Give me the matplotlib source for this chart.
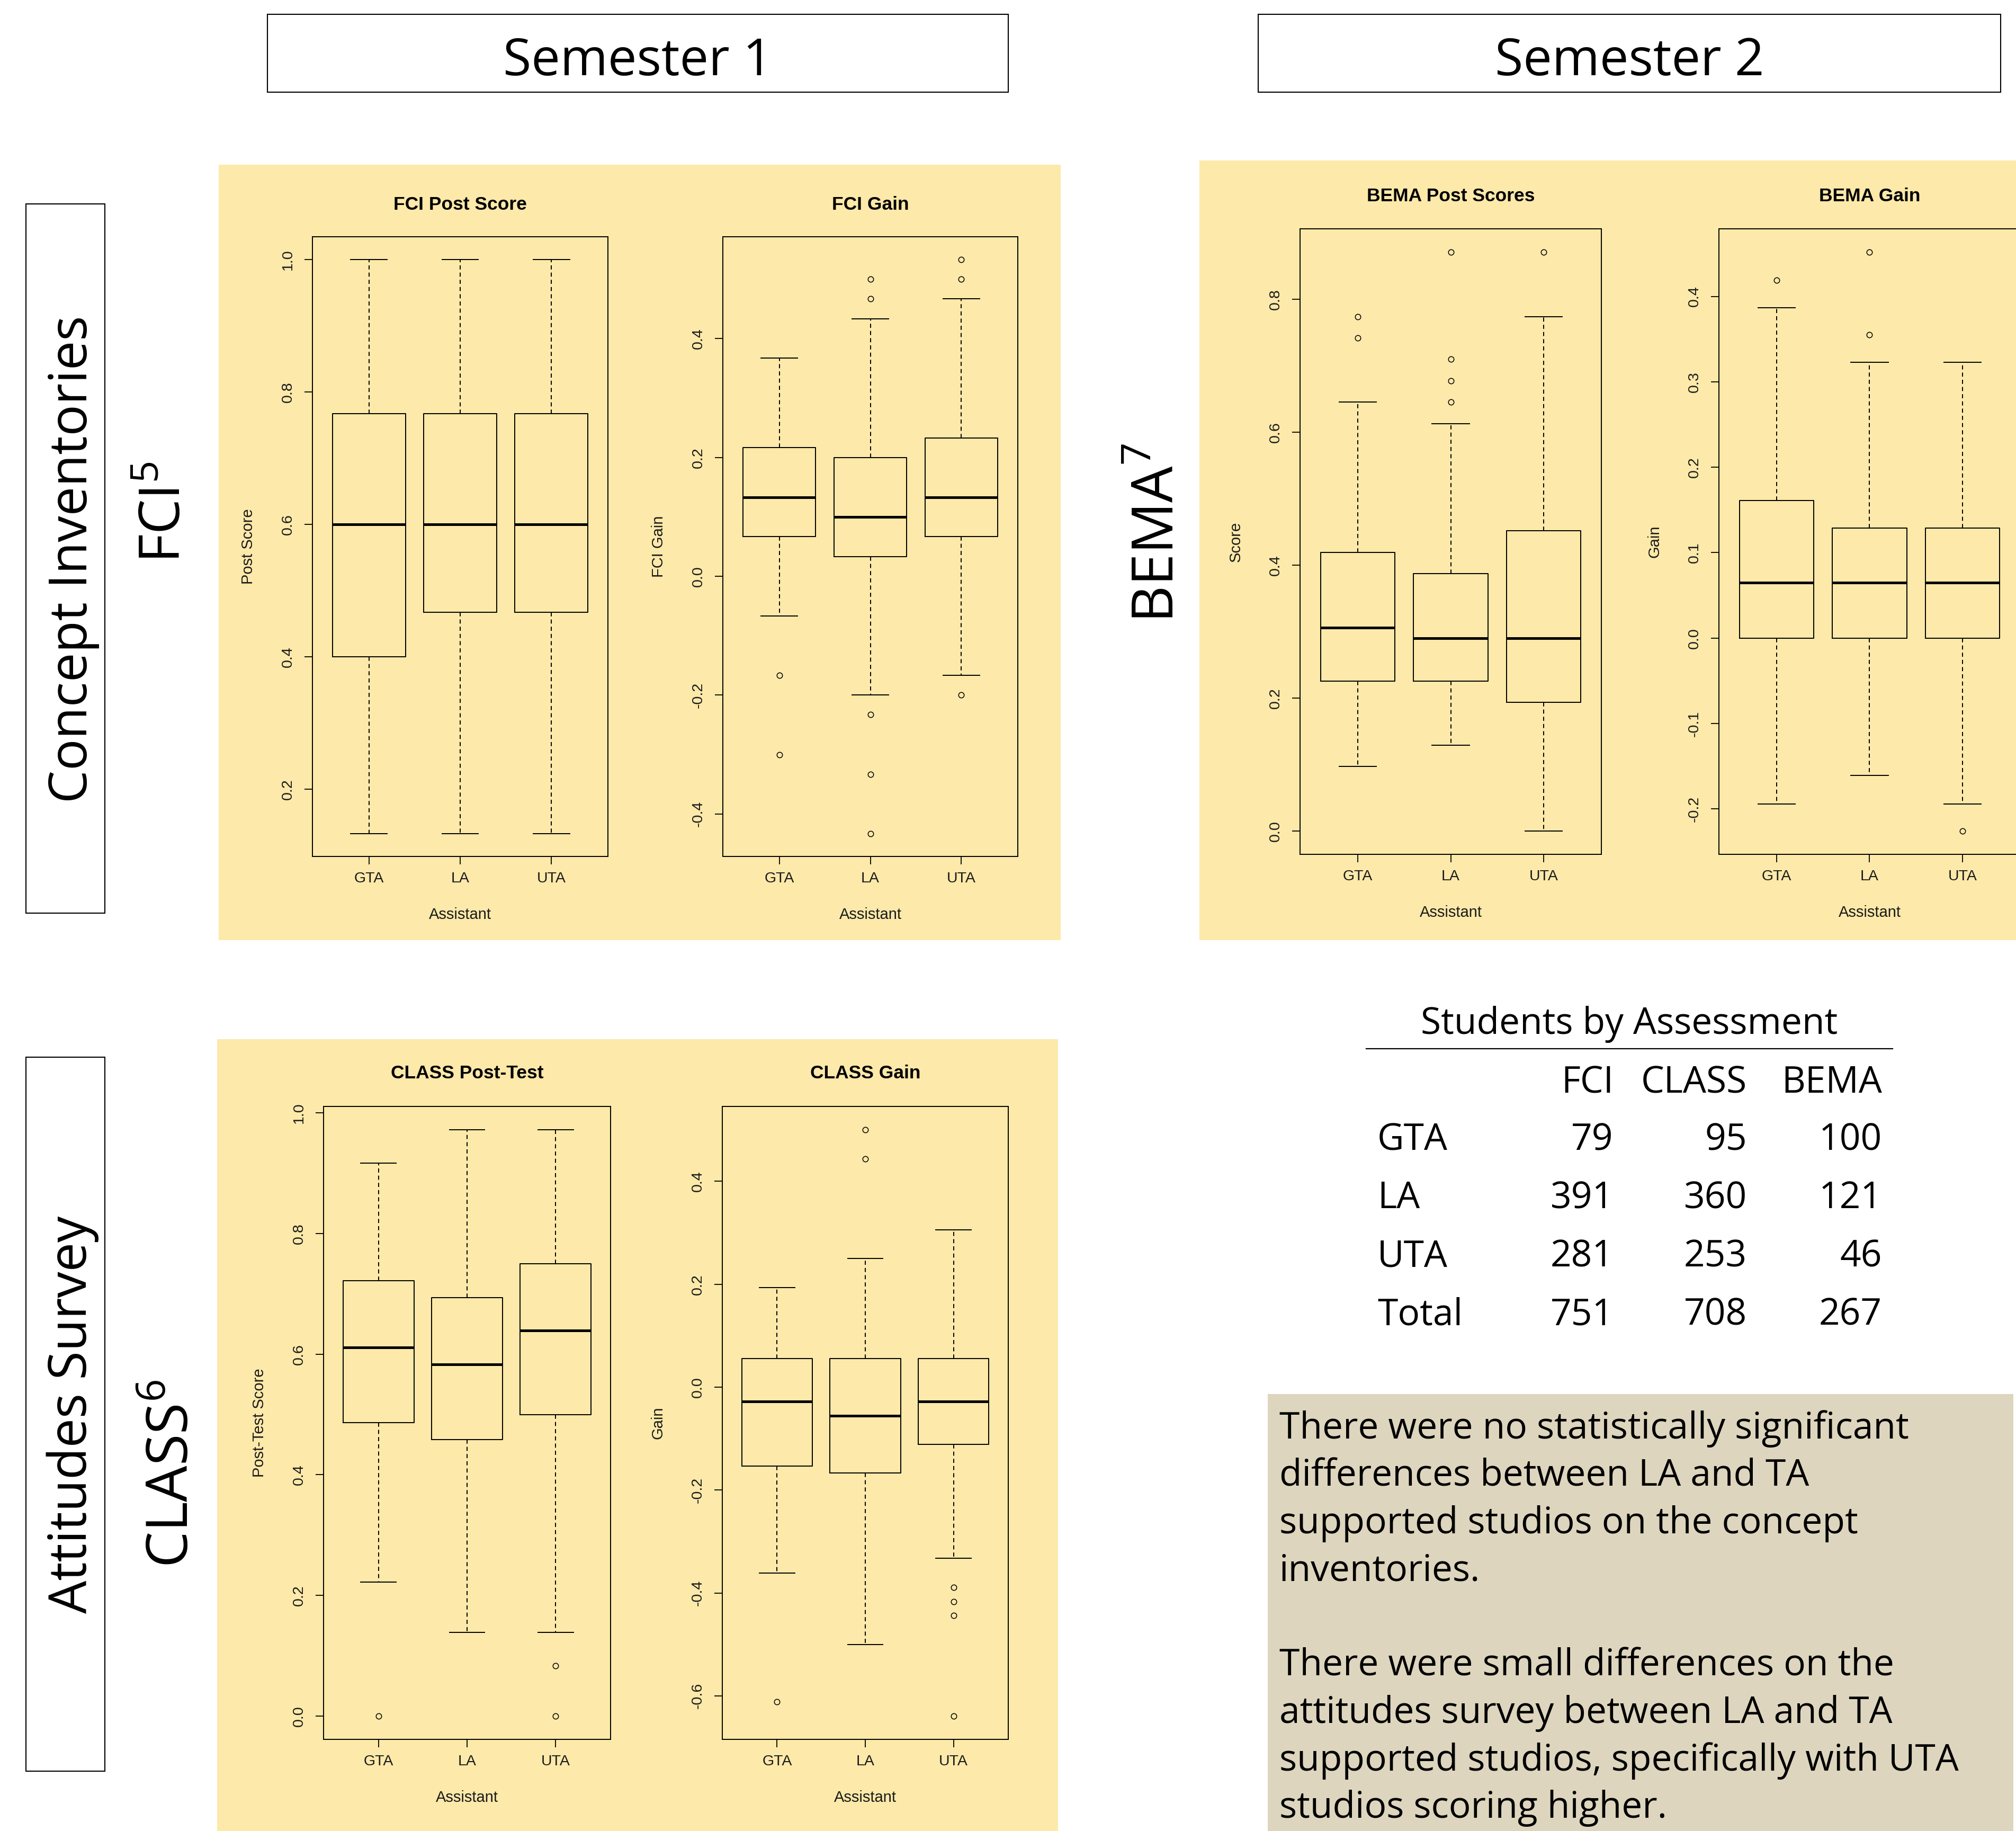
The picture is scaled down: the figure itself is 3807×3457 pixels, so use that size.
import matplotlib
matplotlib.use('Agg')
import matplotlib.pyplot as plt
from matplotlib.patches import Rectangle
from matplotlib.lines import Line2D

W, H = 3807, 3457          # output size in pixels
DPI = 100

PANEL_BG = '#FDE9A9'
NOTE_BG = '#DDD5BD'
R_FONT = 'Liberation Sans'  # stands in for Arial used by R
POSTER_FONT = 'Open Sans'

plt.rcParams['font.family'] = [R_FONT, 'DejaVu Sans']
plt.rcParams['mathtext.fontset'] = 'custom'
plt.rcParams['mathtext.rm'] = POSTER_FONT

GROUPS = ['GTA', 'LA', 'UTA']

# five number summaries per group: (low whisker, Q1, median, Q3, high whisker)
FCI_POST_BOX = [(0.133, 0.400, 0.600, 0.767, 1.000),
                (0.133, 0.467, 0.600, 0.767, 1.000),
                (0.133, 0.467, 0.600, 0.767, 1.000)]
FCI_POST_OUT = [[], [], []]
FCI_POST_TICKS = [0.2, 0.4, 0.6, 0.8, 1.0]

FCI_GAIN_BOX = [(-0.067, 0.067, 0.133, 0.217, 0.367),
                (-0.200, 0.033, 0.100, 0.200, 0.433),
                (-0.167, 0.067, 0.133, 0.233, 0.467)]
FCI_GAIN_OUT = [[-0.167, -0.300],
                [0.467, 0.500, -0.233, -0.333, -0.433],
                [0.500, 0.533, -0.200]]
FCI_GAIN_TICKS = [-0.4, -0.2, 0.0, 0.2, 0.4]

BEMA_POST_BOX = [(0.097, 0.226, 0.306, 0.419, 0.645),
                 (0.129, 0.226, 0.290, 0.387, 0.613),
                 (0.000, 0.194, 0.290, 0.452, 0.774)]
BEMA_POST_OUT = [[0.742, 0.774], [0.645, 0.677, 0.710, 0.871], [0.871]]
BEMA_POST_TICKS = [0.0, 0.2, 0.4, 0.6, 0.8]

BEMA_GAIN_BOX = [(-0.194, 0.000, 0.065, 0.161, 0.387),
                 (-0.161, 0.000, 0.065, 0.129, 0.323),
                 (-0.194, 0.000, 0.065, 0.129, 0.323)]
BEMA_GAIN_OUT = [[0.419], [0.355, 0.452], [-0.226]]
BEMA_GAIN_TICKS = [-0.2, -0.1, 0.0, 0.1, 0.2, 0.3, 0.4]

CLASS_POST_BOX = [(0.222, 0.486, 0.611, 0.722, 0.917),
                  (0.139, 0.458, 0.583, 0.694, 0.972),
                  (0.139, 0.500, 0.639, 0.750, 0.972)]
CLASS_POST_OUT = [[0.0], [], [0.083, 0.0]]
CLASS_POST_TICKS = [0.0, 0.2, 0.4, 0.6, 0.8, 1.0]

CLASS_GAIN_BOX = [(-0.361, -0.153, -0.028, 0.056, 0.194),
                  (-0.500, -0.167, -0.056, 0.056, 0.250),
                  (-0.333, -0.111, -0.028, 0.056, 0.306)]
CLASS_GAIN_OUT = [[-0.611], [0.444, 0.500], [-0.389, -0.417, -0.444, -0.639]]
CLASS_GAIN_TICKS = [-0.6, -0.4, -0.2, 0.0, 0.2, 0.4]

# students by assessment table
ROW_NAMES = ['GTA', 'LA', 'UTA', 'Total']
COL_NAMES = ['FCI', 'CLASS', 'BEMA']
N_FCI = [79, 391, 281, 751]
N_CLASS = [95, 360, 253, 708]
N_BEMA = [100, 121, 46, 267]

NOTE_LINES = ['There were no statistically significant',
              'differences between LA and TA',
              'supported studios on the concept',
              'inventories.',
              '',
              'There were small differences on the',
              'attitudes survey between LA and TA',
              'supported studios, specifically with UTA',
              'studios scoring higher.']


fig = plt.figure(figsize=(W / DPI, H / DPI), dpi=DPI)
fig.patch.set_facecolor('white')


def fx(x):
    return x / W


def fy(y):
    return 1 - y / H


def rect(x0, y0, x1, y1, face, edge=None, lw=0):
    r = Rectangle((fx(x0), fy(y1)), (x1 - x0) / W, (y1 - y0) / H,
                  transform=fig.transFigure, facecolor=face,
                  edgecolor=edge if edge else 'none', linewidth=lw, zorder=-1)
    fig.add_artist(r)


def ptext(x, y, s, size, **kw):
    kw.setdefault('family', [POSTER_FONT, 'DejaVu Sans'])
    fig.text(fx(x), fy(y), s, fontsize=size, color='black', **kw)


# ── R style boxplot panel ───────────────────────────────────────────────
def box_panel(px, title, ylabel, box, out, ticks, title_y):
    x0, y0, x1, y1 = px
    ax = fig.add_axes([fx(x0), fy(y1), (x1 - x0) / W, (y1 - y0) / H])
    ax.set_facecolor('none')

    stats = [dict(whislo=b[0], q1=b[1], med=b[2], q3=b[3], whishi=b[4],
                  fliers=f, label=g) for b, f, g in zip(box, out, GROUPS)]
    ax.bxp(stats, positions=[1, 2, 3], widths=0.8, capwidths=0.4,
           manage_ticks=False,
           boxprops=dict(color='black', linewidth=1.4),
           whiskerprops=dict(color='black', linewidth=1.4, linestyle=(0, (4, 3))),
           capprops=dict(color='black', linewidth=1.4),
           medianprops=dict(color='black', linewidth=3.6, solid_capstyle='butt'),
           flierprops=dict(marker='o', markerfacecolor='none',
                           markeredgecolor='black', markersize=7.5,
                           markeredgewidth=1.1))

    vals = [v for b in box for v in b] + [v for f in out for v in f]
    lo, hi = min(vals), max(vals)
    pad = 0.04 * (hi - lo)
    ax.set_ylim(lo - pad, hi + pad)
    ax.set_xlim(0.38, 3.62)

    ax.set_xticks([1, 2, 3])
    ax.set_xticklabels(GROUPS)
    ax.set_yticks(ticks)
    ax.set_yticklabels([f'{t:.1f}' for t in ticks], rotation=90, va='center')
    ax.tick_params(axis='both', length=11, width=1.3, labelsize=20.5,
                   colors='black', labelcolor='#1a1a1a')
    ax.tick_params(axis='x', pad=10)
    ax.tick_params(axis='y', pad=13)
    for sp in ax.spines.values():
        sp.set_linewidth(1.4)

    cx = (x0 + x1) / 2
    fig.text(fx(cx), fy(title_y), title, ha='center', va='center',
             fontsize=25.5, fontweight='bold', color='black')
    fig.text(fx(cx), fy(y1 + 110), 'Assistant', ha='center', va='center',
             fontsize=21, color='#1a1a1a')
    fig.text(fx(x0 - 121), fy((y0 + y1) / 2), ylabel, ha='center',
             va='center', rotation=90, fontsize=21, color='#1a1a1a')
    return ax


# yellow plot backgrounds
rect(413, 311, 2003, 1775, PANEL_BG)
rect(2265, 303, 3807, 1775, PANEL_BG)
rect(410, 1962, 1998, 3457, PANEL_BG)

box_panel((590, 447, 1148, 1617), 'FCI Post Score', 'Post Score',
          FCI_POST_BOX, FCI_POST_OUT, FCI_POST_TICKS, 386)
box_panel((1365, 447, 1922, 1617), 'FCI Gain', 'FCI Gain',
          FCI_GAIN_BOX, FCI_GAIN_OUT, FCI_GAIN_TICKS, 386)
box_panel((2455, 432, 3024, 1613), 'BEMA Post Scores', 'Score',
          BEMA_POST_BOX, BEMA_POST_OUT, BEMA_POST_TICKS, 370)
box_panel((3246, 432, 3815, 1613), 'BEMA Gain', 'Gain',
          BEMA_GAIN_BOX, BEMA_GAIN_OUT, BEMA_GAIN_TICKS, 370)
box_panel((611, 2089, 1153, 3284), 'CLASS Post-Test', 'Post-Test Score',
          CLASS_POST_BOX, CLASS_POST_OUT, CLASS_POST_TICKS, 2027)
box_panel((1364, 2089, 1904, 3284), 'CLASS Gain', 'Gain',
          CLASS_GAIN_BOX, CLASS_GAIN_OUT, CLASS_GAIN_TICKS, 2027)

# ── semester headers ───────────────────────────────────────────────────
rect(505, 27, 1904, 174, 'white', 'black', 1.5)
rect(2376, 27, 3778, 174, 'white', 'black', 1.5)
ptext(1204, 142, 'Semester 1', 70, ha='center', va='baseline')
ptext(3077, 142, 'Semester 2', 70, ha='center', va='baseline')

# ── row labels on the left ─────────────────────────────────────────────
rect(49, 385, 198, 1724, 'white', 'black', 1.5)
rect(49, 1996, 198, 3344, 'white', 'black', 1.5)
ptext(164, 1056, 'Concept Inventories', 71, ha='center', va='baseline',
      rotation=90, rotation_mode='anchor')
ptext(163, 2671, 'Attitudes Survey', 71, ha='center', va='baseline',
      rotation=90, rotation_mode='anchor')
ptext(340, 967, r'FCI$^{\mathrm{5}}$', 76, ha='center', va='baseline',
      rotation=90, rotation_mode='anchor')
ptext(355, 2782, r'CLASS$^{\mathrm{6}}$', 78, ha='center', va='baseline',
      rotation=90, rotation_mode='anchor')
ptext(2216, 1007, r'BEMA$^{\mathrm{7}}$', 78, ha='center', va='baseline',
      rotation=90, rotation_mode='anchor')

# ── students by assessment table ───────────────────────────────────────
ptext(3077, 1952, 'Students by Assessment', 50, ha='center', va='baseline')
fig.add_artist(Line2D([fx(2580), fx(3574)], [fy(1980), fy(1980)],
                      transform=fig.transFigure, color='black', linewidth=1.6))
col_right = [3047, 3299, 3554]
for name, xr in zip(COL_NAMES, col_right):
    ptext(xr, 2063, name, 50, ha='right', va='baseline')
for i, name in enumerate(ROW_NAMES):
    yb = 2171 + i * 110
    ptext(2601, yb, name, 50, ha='left', va='baseline')
    for vals, xr in zip([N_FCI, N_CLASS, N_BEMA], col_right):
        ptext(xr, yb, str(vals[i]), 50, ha='right', va='baseline')

# ── conclusion note ────────────────────────────────────────────────────
rect(2394, 2632, 3802, 3457, NOTE_BG)
for i, line in enumerate(NOTE_LINES):
    if line:
        ptext(2416, 2716 + i * 89.5, line, 50, ha='left', va='baseline')

fig.savefig('out.png', dpi=DPI, facecolor='white')
